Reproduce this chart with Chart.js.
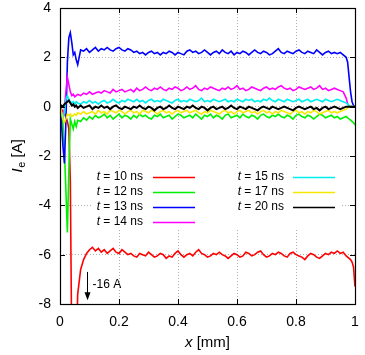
<!DOCTYPE html>
<html>
<head>
<meta charset="utf-8">
<script src="https://cdn.jsdelivr.net/npm/chart.js@4.4.1/dist/chart.umd.min.js"></script>
<style>
  body { margin: 0; background: #fff; }
  #wrap { width: 365px; height: 355px; }
</style>
</head>
<body>
<div id="wrap"><canvas id="c" width="365" height="355"></canvas></div>
<script>
// x positions [mm] (finer near the cathode and the far end)
const xs = [
  0, 0.005, 0.01, 0.015, 0.02, 0.025, 0.03, 0.035, 0.04, 0.045,
  0.05, 0.055, 0.06, 0.07, 0.08, 0.09, 0.1, 0.11, 0.12, 0.13,
  0.14, 0.15, 0.16, 0.17, 0.18, 0.19, 0.2, 0.21, 0.22, 0.23,
  0.24, 0.25, 0.26, 0.27, 0.28, 0.29, 0.3, 0.31, 0.32, 0.33,
  0.34, 0.35, 0.36, 0.37, 0.38, 0.39, 0.4, 0.41, 0.42, 0.43,
  0.44, 0.45, 0.46, 0.47, 0.48, 0.49, 0.5, 0.51, 0.52, 0.53,
  0.54, 0.55, 0.56, 0.57, 0.58, 0.59, 0.6, 0.61, 0.62, 0.63,
  0.64, 0.65, 0.66, 0.67, 0.68, 0.69, 0.7, 0.71, 0.72, 0.73,
  0.74, 0.75, 0.76, 0.77, 0.78, 0.79, 0.8, 0.81, 0.82, 0.83,
  0.84, 0.85, 0.86, 0.87, 0.88, 0.89, 0.9, 0.91, 0.92, 0.93,
  0.94, 0.95, 0.96, 0.97, 0.975, 0.98, 0.985, 0.99, 0.995, 1
];

const ie10 = [
  0, -0.1, -0.2, -0.3, -0.4, -0.6, -0.9, -3, -10, -15,
  -16, -10, -7.6, -6.6, -6.2, -5.95, -5.8, -5.7, -5.85, -5.75,
  -5.9, -5.8, -5.95, -5.85, -5.75, -5.9, -5.95, -5.8, -5.9, -6.0,
  -5.95, -6.05, -6.1, -5.95, -6.0, -6.05, -5.9, -6.0, -6.1, -6.05,
  -5.95, -6.0, -6.15, -6.05, -6.1, -5.95, -5.85, -6.0, -6.1, -6.0,
  -5.95, -6.05, -5.9, -5.8, -5.95, -6.0, -6.1, -6.05, -5.95, -6.0,
  -5.9, -6.0, -6.05, -6.15, -6.05, -5.95, -6.0, -6.1, -6.05, -5.9,
  -5.95, -6.05, -6.0, -5.9, -5.85, -6.0, -6.1, -6.05, -5.95, -6.0,
  -5.9, -5.95, -6.05, -6.1, -5.95, -5.9, -6.0, -6.05, -6.1, -6.2,
  -6.05, -5.95, -6.0, -6.1, -6.15, -6.05, -5.95, -6.0, -5.9, -5.95,
  -5.85, -5.95, -5.9, -6.05, -6.1, -6.15, -6.2, -6.3, -6.5, -7.3
];

const ie12 = [
  0, -0.3, -0.7, -1.8, -3.4, -5.1, -2.6, -0.5, -0.7, -0.9,
  -0.6, -0.8, -0.55, -0.6, -0.45, -0.55, -0.4, -0.5, -0.35, -0.45,
  -0.4, -0.3, -0.45, -0.35, -0.5, -0.4, -0.3, -0.45, -0.35, -0.4,
  -0.5, -0.35, -0.45, -0.3, -0.4, -0.35, -0.45, -0.5, -0.35, -0.4,
  -0.3, -0.45, -0.4, -0.35, -0.5, -0.4, -0.3, -0.35, -0.45, -0.4,
  -0.35, -0.45, -0.3, -0.4, -0.5, -0.35, -0.4, -0.3, -0.45, -0.35,
  -0.4, -0.5, -0.35, -0.3, -0.45, -0.4, -0.35, -0.45, -0.3, -0.4,
  -0.45, -0.35, -0.4, -0.5, -0.35, -0.3, -0.4, -0.45, -0.35, -0.4,
  -0.3, -0.4, -0.45, -0.35, -0.4, -0.5, -0.35, -0.3, -0.4, -0.45,
  -0.35, -0.4, -0.5, -0.4, -0.3, -0.35, -0.45, -0.4, -0.35, -0.45,
  -0.4, -0.5, -0.45, -0.4, -0.45, -0.5, -0.55, -0.6, -0.65, -0.75
];

const ie13 = [
  0, -0.7, -1.6, -2.3, -0.6, 1.8, 2.8, 3.0, 2.6, 2.1,
  2.2, 1.9, 1.7, 2.3, 2.25, 2.35, 2.2, 2.3, 2.4, 2.25,
  2.35, 2.3, 2.4, 2.3, 2.25, 2.35, 2.4, 2.3, 2.25, 2.35,
  2.3, 2.2, 2.25, 2.15, 2.2, 2.1, 2.2, 2.25, 2.15, 2.2,
  2.1, 2.2, 2.15, 2.25, 2.2, 2.1, 2.2, 2.15, 2.1, 2.25,
  2.3, 2.2, 2.25, 2.15, 2.2, 2.3, 2.2, 2.1, 2.2, 2.25,
  2.15, 2.3, 2.2, 2.15, 2.25, 2.1, 2.2, 2.15, 2.25, 2.2,
  2.1, 2.2, 2.3, 2.2, 2.15, 2.25, 2.2, 2.1, 2.15, 2.25,
  2.35, 2.2, 2.15, 2.25, 2.2, 2.15, 2.25, 2.3, 2.2, 2.15,
  2.25, 2.2, 2.15, 2.3, 2.2, 2.1, 2.2, 2.25, 2.15, 2.2,
  2.15, 2.2, 2.1, 2.0, 1.8, 1.2, 0.6, 0.2, 0.05, 0
];

const ie14 = [
  0, -0.2, -0.4, -0.1, 0.6, 1.2, 0.9, 0.6, 0.45, 0.5,
  0.4, 0.45, 0.5, 0.45, 0.55, 0.5, 0.6, 0.5, 0.55, 0.6,
  0.55, 0.65, 0.6, 0.55, 0.7, 0.6, 0.65, 0.7, 0.6, 0.65,
  0.7, 0.6, 0.75, 0.65, 0.7, 0.8, 0.7, 0.65, 0.75, 0.7,
  0.8, 0.7, 0.65, 0.75, 0.7, 0.8, 0.75, 0.65, 0.7, 0.8,
  0.7, 0.75, 0.85, 0.7, 0.65, 0.75, 0.7, 0.8, 0.75, 0.7,
  0.65, 0.75, 0.7, 0.8, 0.7, 0.75, 0.85, 0.7, 0.75, 0.65,
  0.7, 0.8, 0.75, 0.7, 0.65, 0.75, 0.8, 0.7, 0.75, 0.7,
  0.8, 0.85, 0.75, 0.7, 0.75, 0.65, 0.7, 0.8, 0.75, 0.7,
  0.75, 0.8, 0.7, 0.75, 0.85, 0.7, 0.75, 0.65, 0.7, 0.75,
  0.7, 0.65, 0.6, 0.35, 0.12, 0.03, 0, 0, 0, 0
];

const ie15 = [
  0, -0.3, -0.5, -0.2, 0.3, 0.45, 0.3, 0.2, 0.15, 0.2,
  0.1, 0.2, 0.15, 0.1, 0.2, 0.15, 0.25, 0.15, 0.2, 0.1,
  0.2, 0.25, 0.15, 0.2, 0.3, 0.2, 0.15, 0.25, 0.2, 0.3,
  0.25, 0.2, 0.3, 0.2, 0.25, 0.15, 0.25, 0.3, 0.2, 0.25,
  0.2, 0.3, 0.25, 0.2, 0.15, 0.25, 0.3, 0.2, 0.25, 0.2,
  0.3, 0.25, 0.2, 0.25, 0.35, 0.2, 0.25, 0.2, 0.3, 0.25,
  0.2, 0.25, 0.3, 0.2, 0.25, 0.2, 0.3, 0.25, 0.2, 0.3,
  0.25, 0.3, 0.2, 0.25, 0.2, 0.3, 0.25, 0.35, 0.25, 0.2,
  0.3, 0.25, 0.2, 0.3, 0.25, 0.2, 0.25, 0.3, 0.2, 0.25,
  0.3, 0.2, 0.25, 0.3, 0.25, 0.2, 0.3, 0.25, 0.2, 0.25,
  0.3, 0.25, 0.2, 0.15, 0.1, 0.05, 0, 0, 0, 0
];

const ie17 = [
  0, -0.2, -0.5, -0.65, -0.5, -0.3, -0.35, -0.3, -0.4, -0.35,
  -0.3, -0.35, -0.25, -0.3, -0.2, -0.3, -0.25, -0.2, -0.3, -0.15,
  -0.25, -0.2, -0.3, -0.15, -0.2, -0.25, -0.15, -0.2, -0.3, -0.2,
  -0.15, -0.25, -0.2, -0.3, -0.15, -0.2, -0.25, -0.15, -0.2, -0.3,
  -0.2, -0.15, -0.25, -0.2, -0.3, -0.2, -0.15, -0.25, -0.2, -0.15,
  -0.25, -0.2, -0.15, -0.25, -0.3, -0.2, -0.25, -0.15, -0.2, -0.25,
  -0.3, -0.2, -0.15, -0.25, -0.2, -0.3, -0.2, -0.15, -0.25, -0.2,
  -0.15, -0.25, -0.2, -0.3, -0.2, -0.15, -0.25, -0.2, -0.3, -0.2,
  -0.25, -0.15, -0.2, -0.25, -0.3, -0.2, -0.15, -0.25, -0.2, -0.3,
  -0.2, -0.25, -0.15, -0.2, -0.3, -0.25, -0.2, -0.15, -0.25, -0.2,
  -0.25, -0.2, -0.15, -0.1, -0.05, 0, 0, 0, 0, 0
];

const ie20 = [
  0, 0.05, 0, 0.1, 0.15, 0.2, 0.25, 0.15, 0.05, 0.1,
  0, 0.05, -0.05, 0.05, -0.05, 0, 0.05, -0.1, 0, -0.05,
  0.05, -0.05, 0, -0.1, 0, 0.05, -0.05, -0.1, 0, -0.05,
  -0.1, 0, -0.05, 0.05, -0.05, -0.1, 0, -0.05, -0.15, -0.05,
  0, -0.1, -0.05, 0.05, -0.05, -0.1, 0, -0.05, -0.1, 0,
  -0.05, 0.05, -0.05, -0.1, 0, -0.05, -0.15, -0.05, 0, -0.1,
  -0.05, 0, -0.1, -0.05, 0.05, -0.05, -0.1, 0, -0.05, -0.1,
  0, -0.05, -0.1, -0.15, -0.05, 0, -0.05, -0.1, 0, -0.05,
  -0.1, -0.05, 0, -0.05, -0.1, -0.15, -0.05, 0, -0.05, -0.1,
  -0.05, 0, -0.1, -0.05, -0.15, -0.05, 0, -0.1, -0.05, 0,
  -0.05, -0.1, -0.05, 0, 0, 0, 0, 0, 0, 0
];

const times = ['10', '12', '13', '14', '15', '17', '20'];
const series = [ie10, ie12, ie13, ie14, ie15, ie17, ie20];
const colors = ['#ff0000', '#00f000', '#0000ff', '#ff00ff', '#00f0f0', '#f5e800', '#000000'];

const xTicks = [0, 0.2, 0.4, 0.6, 0.8, 1];
const yTicks = [4, 2, 0, -2, -4, -6, -8];

const FONT = '"Liberation Sans", Arial, Helvetica, sans-serif';

const datasets = series.map((vals, i) => ({
  label: 't = ' + times[i] + ' ns',
  data: xs.map((x, k) => ({ x: x, y: vals[k] })),
  borderColor: colors[i],
  backgroundColor: colors[i],
  borderWidth: i === 6 ? 2 : 1.6,
  pointRadius: 0,
  tension: 0,
  fill: false,
  order: series.length - i   // later curves on top, like gnuplot
}));

// frame, inward ticks, titles, key and the "-16 A" note
const decor = {
  id: 'decor',
  afterDatasetsDraw(chart) {
    const ctx = chart.ctx;
    const a = chart.chartArea;
    const sx = chart.scales.x, sy = chart.scales.y;

    ctx.save();
    ctx.strokeStyle = '#000';
    ctx.lineWidth = 1;
    ctx.beginPath();
    xTicks.forEach(v => {
      const px = Math.round(sx.getPixelForValue(v)) + 0.5;
      ctx.moveTo(px, a.bottom); ctx.lineTo(px, a.bottom - 5);
      ctx.moveTo(px, a.top); ctx.lineTo(px, a.top + 5);
    });
    yTicks.forEach(v => {
      const py = Math.round(sy.getPixelForValue(v)) + 0.5;
      ctx.moveTo(a.left, py); ctx.lineTo(a.left + 5, py);
      ctx.moveTo(a.right, py); ctx.lineTo(a.right - 5, py);
    });
    ctx.stroke();
    ctx.lineWidth = 1.2;
    ctx.strokeRect(Math.round(a.left) + 0.5, Math.round(a.top) + 0.5,
      Math.round(a.right - a.left), Math.round(a.bottom - a.top));

    // key with opaque background
    ctx.fillStyle = '#fff';
    ctx.fillRect(92, 168, 248, 62);
    ctx.textBaseline = 'middle';
    const rowY = [177, 192, 207, 222];
    datasets.forEach((d, i) => {
      const col = i < 4 ? 0 : 1;
      const row = i < 4 ? i : i - 4;
      const textRight = col === 0 ? 143 : 284;
      const lineX = col === 0 ? 153 : 293;
      const y = rowY[row];
      ctx.font = '12px ' + FONT;
      const rest = ' = ' + times[i] + ' ns';
      const wRest = ctx.measureText(rest).width;
      ctx.fillStyle = '#000';
      ctx.textAlign = 'left';
      ctx.fillText(rest, textRight - wRest, y);
      ctx.font = 'italic 12px ' + FONT;
      const wt = ctx.measureText('t').width;
      ctx.fillText('t', textRight - wRest - wt, y);
      ctx.strokeStyle = d.borderColor;
      ctx.lineWidth = 1.5;
      ctx.beginPath();
      ctx.moveTo(lineX, y + 0.5);
      ctx.lineTo(lineX + 42, y + 0.5);
      ctx.stroke();
    });

    // arrow pointing to the off-scale minimum of t = 10 ns
    const ax = Math.round(sx.getPixelForValue(0.09)) + 0.5;
    const ay0 = sy.getPixelForValue(-6.7);
    const ay1 = sy.getPixelForValue(-7.85);
    ctx.strokeStyle = '#000';
    ctx.fillStyle = '#000';
    ctx.lineWidth = 1;
    ctx.beginPath();
    ctx.moveTo(ax, ay0); ctx.lineTo(ax, ay1 - 4);
    ctx.stroke();
    ctx.beginPath();
    ctx.moveTo(ax, ay1);
    ctx.lineTo(ax - 3, ay1 - 8);
    ctx.lineTo(ax + 3, ay1 - 8);
    ctx.closePath();
    ctx.fill();
    ctx.font = '12px ' + FONT;
    ctx.textAlign = 'left';
    ctx.fillText('-16 A', ax + 5, sy.getPixelForValue(-7.2));

    // axis titles
    ctx.font = 'italic 15px ' + FONT;
    const wx = ctx.measureText('x').width;
    ctx.font = '15px ' + FONT;
    const wmm = ctx.measureText(' [mm]').width;
    const cx = (a.left + a.right) / 2;
    const x0 = cx - (wx + wmm) / 2;
    ctx.textBaseline = 'middle';
    ctx.font = 'italic 15px ' + FONT;
    ctx.fillText('x', x0, 343);
    ctx.font = '15px ' + FONT;
    ctx.fillText(' [mm]', x0 + wx, 343);

    ctx.translate(18, (a.top + a.bottom) / 2);
    ctx.rotate(-Math.PI / 2);
    ctx.font = 'italic 15px ' + FONT;
    const wI = ctx.measureText('I').width;
    ctx.font = '11px ' + FONT;
    const we = ctx.measureText('e').width;
    ctx.font = '15px ' + FONT;
    const wA = ctx.measureText(' [A]').width;
    let tx = -(wI + we + wA) / 2;
    ctx.font = 'italic 15px ' + FONT;
    ctx.fillText('I', tx, 0);
    tx += wI + 0.5;
    ctx.font = '11px ' + FONT;
    ctx.fillText('e', tx, 4);
    tx += we;
    ctx.font = '15px ' + FONT;
    ctx.fillText(' [A]', tx, 0);
    ctx.restore();
  }
};

new Chart(document.getElementById('c').getContext('2d'), {
  type: 'line',
  data: { datasets: datasets },
  options: {
    responsive: false,
    animation: false,
    events: [],
    layout: { padding: { top: 8, right: 10, left: 0, bottom: 0 } },
    plugins: { legend: { display: false }, tooltip: { enabled: false } },
    scales: {
      x: {
        type: 'linear',
        min: 0,
        max: 1,
        afterFit: s => { s.height = 51; s.paddingLeft = 0; s.paddingRight = 0; },
        afterBuildTicks: s => { s.ticks = xTicks.map(v => ({ value: v })); },
        ticks: {
          color: '#000',
          padding: 10,
          maxRotation: 0,
          font: { family: FONT, size: 14 },
          callback: v => String(v)
        },
        grid: { color: '#b0b0b0', drawTicks: false, lineWidth: 1 },
        border: { display: false, dash: [1, 2] }
      },
      y: {
        type: 'linear',
        min: -8,
        max: 4,
        afterFit: s => { s.width = 60; s.paddingTop = 0; s.paddingBottom = 0; },
        afterBuildTicks: s => { s.ticks = yTicks.map(v => ({ value: v })); },
        ticks: {
          color: '#000',
          padding: 9,
          font: { family: FONT, size: 14 },
          callback: v => String(v)
        },
        grid: { color: '#b0b0b0', drawTicks: false, lineWidth: 1 },
        border: { display: false, dash: [1, 2] }
      }
    }
  },
  plugins: [decor]
});
</script>
</body>
</html>
